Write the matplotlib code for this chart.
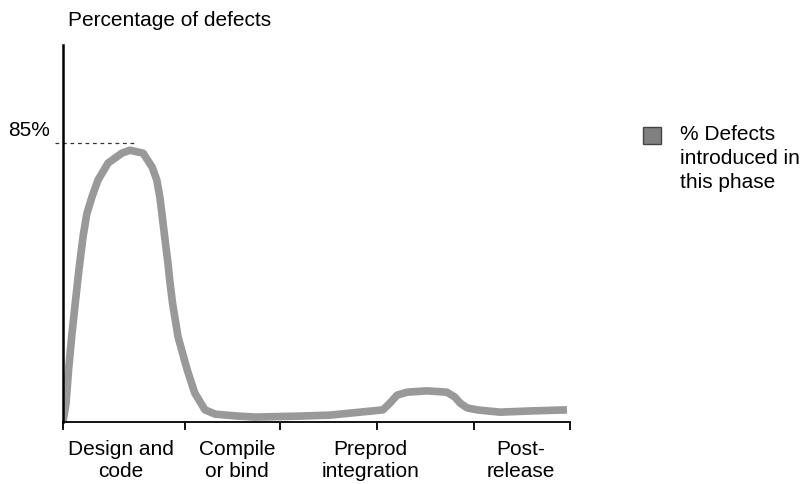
import matplotlib.pyplot as plt
from matplotlib.patches import Rectangle

plt.rcParams["font.family"] = ["Liberation Sans", "DejaVu Sans"]

# position along the phase axis (0-100) and percentage of defects
pos = [0.0, 0.6, 1.1, 1.7, 2.4, 3.0, 3.5, 4.0, 4.7, 5.7, 6.9, 8.9, 11.6, 13.2,
       15.8, 17.6, 18.5, 19.1, 19.5, 19.9, 20.3, 20.7, 21.0, 21.6, 22.7, 24.5,
       26.0, 28.0, 30.0, 34.5, 37.9, 46.7, 52.7, 56.6, 63.1, 64.5, 65.9, 67.9,
       71.8, 75.7, 77.3, 78.3, 79.7, 81.7, 86.2, 92.7, 99.4]
pct = [0.0, 5.8, 15.9, 25.9, 36.0, 44.5, 51.0, 57.0, 63.5, 68.6, 73.8, 79.0, 82.0, 82.9,
       82.0, 77.7, 73.8, 68.6, 63.7, 58.5, 53.4, 48.5, 43.9, 36.3, 25.9, 15.9,
       8.8, 3.7, 2.4, 1.8, 1.5, 1.8, 2.1, 2.7, 3.7, 5.8, 8.2, 9.1,
       9.5, 9.1, 7.6, 5.8, 4.3, 3.7, 3.0, 3.4, 3.7]

phase_edges = [0, 24.1, 42.8, 61.9, 81.1, 100]
phase_names = ["Design and\ncode", "Compile\nor bind", "Preprod\nintegration", "Post-\nrelease"]
phase_label_pos = [11.4, 34.3, 60.6, 90.3]
peak_label = 85

fig = plt.figure(figsize=(8.03, 4.84), dpi=100)
ax = fig.add_axes([63 / 803, 62 / 484, 507 / 803, 377 / 484])

ax.plot(pos, pct, color="#999999", lw=5.5, solid_capstyle="butt", solid_joinstyle="round")
ax.plot([-1.5, 14.5], [peak_label, peak_label], color="#333333", lw=0.9, ls=(0, (3, 3)), clip_on=False)

ax.set_xlim(0, 100)
ax.set_ylim(0, 115)
for side in ["top", "right"]:
    ax.spines[side].set_visible(False)
ax.spines["left"].set_linewidth(1.8)
ax.spines["bottom"].set_linewidth(1.3)
ax.set_yticks([])
ax.set_xticks(phase_edges)
ax.set_xticklabels([])
ax.tick_params(axis="x", which="major", length=6, width=1.3, direction="out")
ax.set_xticks(phase_label_pos, minor=True)
ax.set_xticklabels(phase_names, minor=True, fontsize=15, linespacing=1.18)
ax.tick_params(axis="x", which="minor", length=0, pad=13)

fig.text(68 / 803, 1 - 20 / 484, "Percentage of defects", fontsize=15, va="center", ha="left")
fig.text(8 / 803, 1 - 130 / 484, f"{peak_label}%", fontsize=15, va="center", ha="left")

fig.patches.append(Rectangle((643 / 803, 1 - 144 / 484), 18 / 803, 17 / 484,
                             transform=fig.transFigure, facecolor="#808080",
                             edgecolor="#444444", lw=1.0))
fig.text(680 / 803, 1 - 125 / 484, "% Defects\nintroduced in\nthis phase", fontsize=15,
         va="top", ha="left", linespacing=1.34)

fig.savefig("out.png", dpi=100, facecolor="white")
